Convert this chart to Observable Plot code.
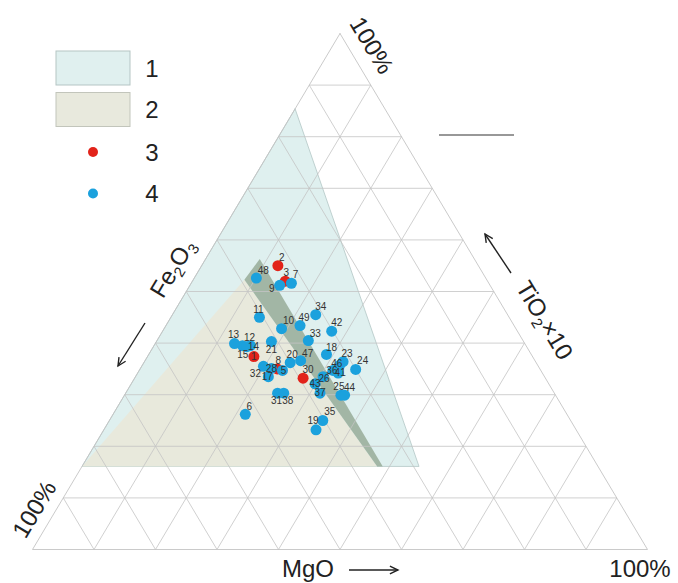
<!DOCTYPE html>
<html><head><meta charset="utf-8">
<script src="https://cdn.jsdelivr.net/npm/d3@7"></script>
<script src="https://cdn.jsdelivr.net/npm/@observablehq/plot@0.6"></script>
<style>
body{margin:0;background:#fff;}
#wrap{position:relative;width:678px;height:583px;font-family:"Liberation Sans",Arial,sans-serif;}
#wrap svg{position:absolute;left:0;top:0;}
</style></head><body><div id="wrap"></div>
<script>
// Ternary data (%): TiO2×10 (apex), Fe2O3 (bottom-left), MgO (bottom-right)
const sampleIds = [1,2,3,5,6,7,8,9,10,11,12,13,14,15,17,18,19,20,21,23,24,25,26,28,30,31,32,33,34,35,36,37,38,41,42,43,44,46,47,48,49];
const sampleGroup = [3,3,3,4,4,4,3,4,4,4,4,4,4,4,4,4,4,4,4,4,4,4,4,4,3,4,4,4,4,4,4,4,4,4,4,4,4,4,4,4,4];
const tio2x10 = [37.4,55.0,52.0,34.7,26.2,51.6,35.0,51.2,42.8,45.0,39.5,39.9,39.5,39.3,33.5,37.8,23.2,36.2,40.3,36.4,34.9,29.9,33.5,35.1,33.2,30.3,35.5,40.5,45.5,25.0,34.7,30.3,30.3,34.2,42.3,32.1,29.9,35.7,36.6,52.6,43.4];
const fe2o3   = [45.3,32.6,32.9,42.0,52.3,32.1,42.7,34.2,38.1,40.6,46.1,47.2,44.8,45.5,44.9,33.3,42.3,40.0,41.0,31.3,30.0,34.9,36.0,43.6,39.4,45.0,44.7,34.9,31.2,40.3,33.8,38.1,44.0,33.2,30.2,38.0,34.3,32.2,38.1,37.3,34.8];
const mgo     = [17.3,12.4,15.1,23.3,21.5,16.3,22.3,14.6,19.1,14.4,14.4,12.9,15.7,15.2,21.6,28.9,34.5,23.8,18.7,32.3,35.1,35.2,30.5,21.3,27.4,24.7,19.8,24.6,23.3,34.7,31.5,31.6,25.7,32.6,27.5,29.9,35.8,32.1,25.3,10.1,21.8];

// Fields (ternary vertices, %)
const field1Ti = [85.4, 16.1, 16.1], field1Mg = [0, 0, 54.8];
const field2Ti = [16.1, 52.3, 16.1], field2Mg = [0, 8.3, 48.0];
const bandTi = [52.3, 56.3, 16.1, 16.1], bandMg = [8.3, 8.8, 48.9, 48.0];
const gridSteps = [10,20,30,40,50,60,70,80,90];

// label placement (dx, dy in px) per sample id
const labelOffset = {1:[0,0],2:[4,-8],3:[1,-8],5:[1,0],6:[4,-8],7:[4,-8],8:[1,-8],9:[-8,3],10:[7,-8],11:[-1,-8],12:[7,-8],13:[-1,-9],14:[3,1],15:[-4,8],17:[-1,0],18:[5,-7],19:[-3,-9],20:[2,-8],21:[0,8],23:[4,-8],24:[7,-9],25:[-2,-8],26:[1,2],28:[0,0],30:[5,-8],31:[-1,8],32:[-8,7],33:[7,-7],34:[5,-8],35:[7,-9],36:[-1,0],37:[0,0],38:[4,8],41:[2,0],42:[5,-8],43:[0,0],44:[5,-7],46:[-3,-1],47:[7,-7],48:[7,-7],49:[4,-8]};

const samples = sampleIds.map((id,i)=>({id, group: sampleGroup[i], ti: tio2x10[i], fe: fe2o3[i], mg: mgo[i]}));
const tx = (ti, mg) => mg/100 + ti/200;
const ty = (ti) => ti/100;
const poly = (T, M) => { const p = T.map((t,i)=>({x: tx(t, M[i]), y: ty(t)})); p.push(p[0]); return p; };

// grid segments
const grid = [];
for (const s of gridSteps) {
  grid.push({x1: tx(s,0), y1: ty(s), x2: tx(s,100-s), y2: ty(s)});            // const TiO2
  grid.push({x1: tx(0,s), y1: 0, x2: tx(100-s,s), y2: ty(100-s)});             // const MgO
  grid.push({x1: tx(0,100-s), y1: 0, x2: tx(100-s,0), y2: ty(100-s)});         // const Fe2O3
}
const border = poly([100,0,0],[0,0,100]);

const red = "#e2231a", blue = "#1ba1dd";
const marks = [
  Plot.line(poly(field1Ti, field1Mg), {x:"x", y:"y", fill:"#dff0ef", stroke:"#b3c6c5", strokeWidth:0.8}),
  Plot.line(poly(field2Ti, field2Mg), {x:"x", y:"y", fill:"#e8e9dc", stroke:"none"}),
  Plot.line(poly(bandTi, bandMg), {x:"x", y:"y", fill:"#a2b6a5", stroke:"none"}),
  Plot.link(grid, {x1:"x1", y1:"y1", x2:"x2", y2:"y2", stroke:"#c4c4c4", strokeWidth:0.8}),
  Plot.line(border, {x:"x", y:"y", stroke:"#c4c4c4", strokeWidth:0.9}),
  Plot.dot(samples.filter(d=>d.group===3), {x: d=>tx(d.ti,d.mg), y: d=>ty(d.ti), r:5.5, fill: red}),
  Plot.dot(samples.filter(d=>d.group===4), {x: d=>tx(d.ti,d.mg), y: d=>ty(d.ti), r:5.5, fill: blue}),
  ...samples.map(d => Plot.text([d], {x: dd=>tx(dd.ti,dd.mg), y: dd=>ty(dd.ti), text: dd=>String(dd.id), dx: labelOffset[d.id][0], dy: labelOffset[d.id][1], fontSize: 10, fill:"#333", fontFamily:"Liberation Sans, Arial, sans-serif"}))
];

const chart = Plot.plot({
  width: 678, height: 583, margin: 0,
  x: {domain: [0,1], range: [32, 647], axis: null},
  y: {domain: [0,1], range: [549, 33], axis: null},
  marks
});
document.getElementById("wrap").appendChild(chart);

// overlay: legend, axis titles, arrows
const ov = d3.select("#wrap").append("svg").attr("width",678).attr("height",583)
  .style("font-family","'Liberation Sans', Arial, sans-serif").style("fill","#222");
const legendItems = [
  {label:"1", kind:"rect", fill:"#e0f0ef", stroke:"#b5c5c4"},
  {label:"2", kind:"rect", fill:"#e8e9dd", stroke:"#c2c5bb"},
  {label:"3", kind:"dot", fill:red},
  {label:"4", kind:"dot", fill:blue}
];
const legendY = [68, 109.5, 152, 193.5];
legendItems.forEach((it,i)=>{
  const cy = legendY[i];
  if (it.kind==="rect") ov.append("rect").attr("x",56).attr("y",cy-17).attr("width",74).attr("height",34).attr("fill",it.fill).attr("stroke",it.stroke).attr("stroke-width",1);
  else ov.append("circle").attr("cx",93).attr("cy",cy).attr("r",5).attr("fill",it.fill);
  ov.append("text").attr("x",152).attr("y",cy).attr("dy","0.36em").attr("text-anchor","middle").attr("font-size",24).text(it.label);
});

function txt(x,y,rot,parts,anchor="middle"){
  const t = ov.append("text").attr("transform",`translate(${x},${y}) rotate(${rot})`).attr("text-anchor",anchor).attr("font-size",24).attr("dy","0.36em");
  parts.forEach(p=>{
    const s = t.append("tspan").text(p.t);
    if (p.sub) s.attr("font-size",15).attr("dy",5);
    else if (p.after) s.attr("dy",-5);
  });
  return t;
}
function arrow(x1,y1,x2,y2){
  ov.append("line").attr("x1",x1).attr("y1",y1).attr("x2",x2).attr("y2",y2).attr("stroke","#222").attr("stroke-width",1.4);
  const a = Math.atan2(y2-y1,x2-x1), L = 9, s = 0.45;
  ov.append("path").attr("d",`M${x2-L*Math.cos(a-s)},${y2-L*Math.sin(a-s)}L${x2},${y2}L${x2-L*Math.cos(a+s)},${y2-L*Math.sin(a+s)}`).attr("fill","none").attr("stroke","#222").attr("stroke-width",1.4);
}
txt(372,45,59,[{t:"100%"}]);
txt(34,509,-59,[{t:"100%"}]);
txt(640,568,0,[{t:"100%"}]);
txt(282,568,0,[{t:"MgO"}],"start");
arrow(349,570,398,570);
txt(172,268,-59,[{t:"Fe"},{t:"2",sub:true},{t:"O",after:true},{t:"3",sub:true}]);
arrow(145,323,118,366);
txt(545,320,59,[{t:"TiO"},{t:"2",sub:true},{t:"×10",after:true}]);
arrow(511,273,485,234);
ov.append("line").attr("x1",439).attr("y1",135).attr("x2",514).attr("y2",135).attr("stroke","#333").attr("stroke-width",1.2);
</script></body></html>
